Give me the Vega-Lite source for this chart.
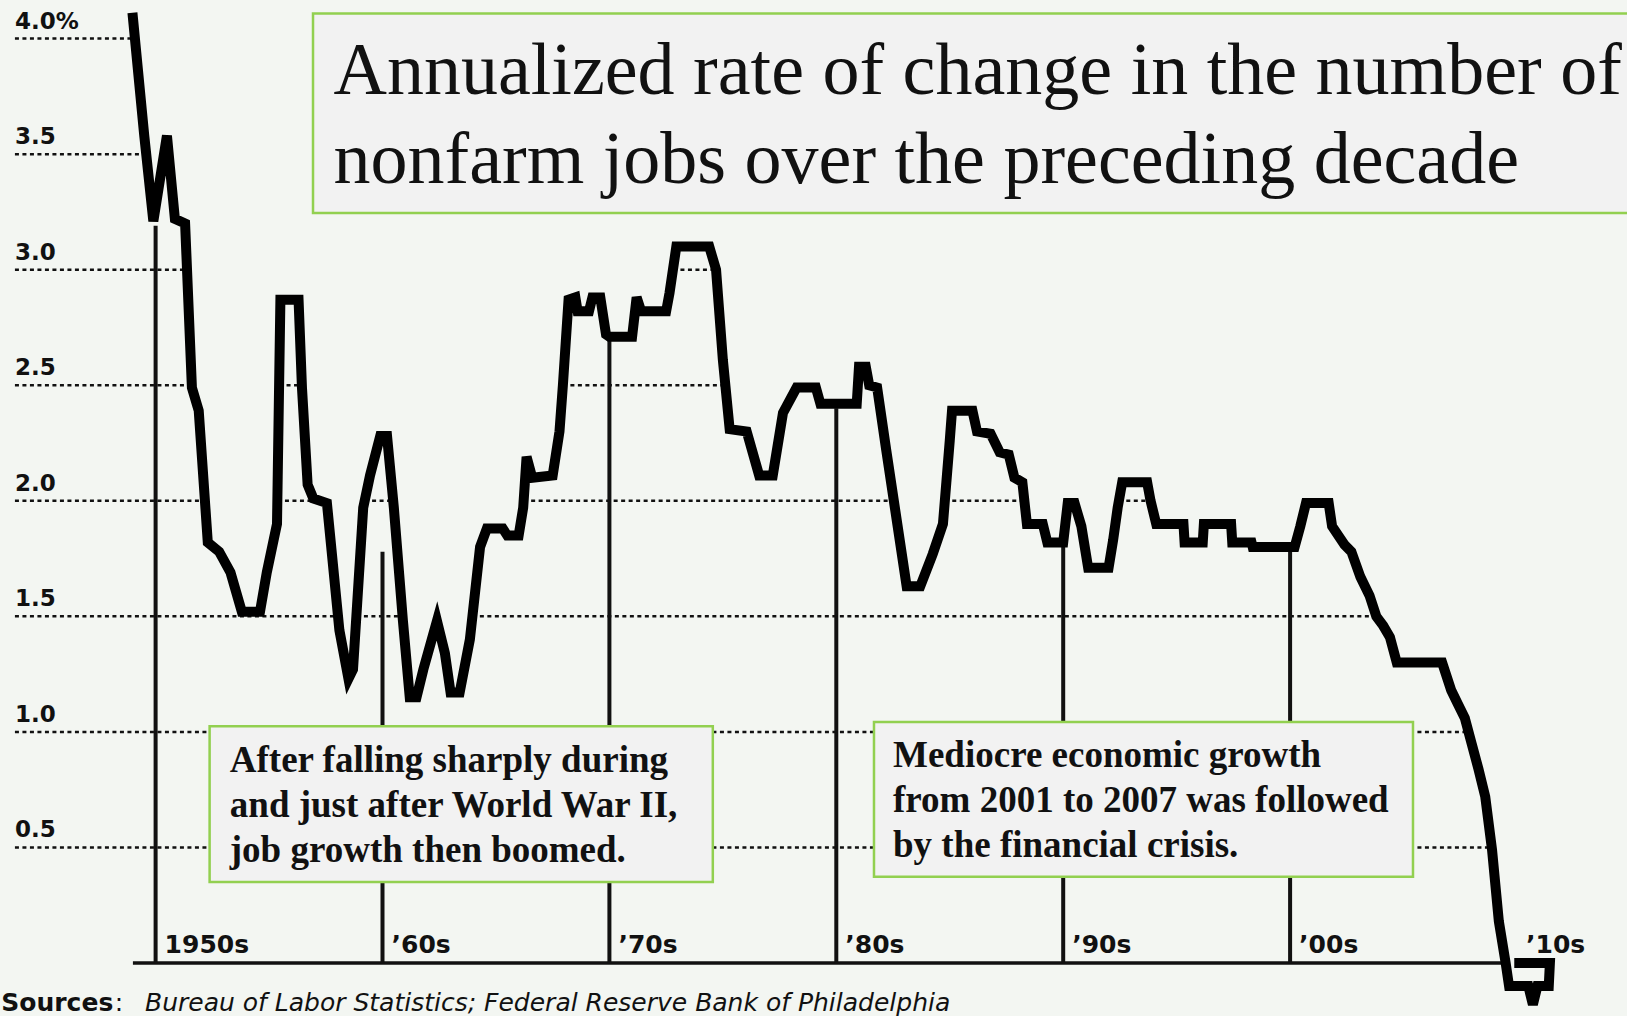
{
  "$schema": "https://vega.github.io/schema/vega-lite/v6.json",
  "width": 1627,
  "height": 1016,
  "autosize": "none",
  "padding": 0,
  "background": "#f3f6f2",
  "config": {"view": {"stroke": null}},
  "datasets": {
    "series": [
      {"i":0,"year":1949.0,"v":4.09},{"i":1,"year":1949.5,"v":3.58},{"i":2,"year":1949.9,"v":3.21},{"i":3,"year":1950.5,"v":3.58},
      {"i":4,"year":1950.85,"v":3.22},{"i":5,"year":1951.3,"v":3.20},{"i":6,"year":1951.6,"v":2.49},{"i":7,"year":1951.9,"v":2.39},
      {"i":8,"year":1952.3,"v":1.82},{"i":9,"year":1952.8,"v":1.78},{"i":10,"year":1953.3,"v":1.69},{"i":11,"year":1953.8,"v":1.52},
      {"i":12,"year":1954.6,"v":1.52},{"i":13,"year":1954.9,"v":1.69},{"i":14,"year":1955.35,"v":1.90},{"i":15,"year":1955.5,"v":2.87},
      {"i":16,"year":1956.3,"v":2.87},{"i":17,"year":1956.45,"v":2.49},{"i":18,"year":1956.7,"v":2.07},{"i":19,"year":1956.95,"v":2.01},
      {"i":20,"year":1957.55,"v":1.99},{"i":21,"year":1958.1,"v":1.44},{"i":22,"year":1958.5,"v":1.23},{"i":23,"year":1958.7,"v":1.27},
      {"i":24,"year":1959.15,"v":1.97},{"i":25,"year":1959.45,"v":2.11},{"i":26,"year":1959.9,"v":2.28},{"i":27,"year":1960.2,"v":2.28},
      {"i":28,"year":1960.5,"v":1.97},{"i":29,"year":1960.9,"v":1.48},{"i":30,"year":1961.2,"v":1.15},{"i":31,"year":1961.5,"v":1.15},
      {"i":32,"year":1961.8,"v":1.27},{"i":33,"year":1962.4,"v":1.48},{"i":34,"year":1962.75,"v":1.34},{"i":35,"year":1963.0,"v":1.17},
      {"i":36,"year":1963.4,"v":1.17},{"i":37,"year":1963.85,"v":1.40},{"i":38,"year":1964.3,"v":1.80},{"i":39,"year":1964.6,"v":1.88},
      {"i":40,"year":1965.3,"v":1.88},{"i":41,"year":1965.5,"v":1.85},{"i":42,"year":1966.0,"v":1.85},{"i":43,"year":1966.2,"v":1.97},
      {"i":44,"year":1966.35,"v":2.19},{"i":45,"year":1966.6,"v":2.10},{"i":46,"year":1967.5,"v":2.11},{"i":47,"year":1967.8,"v":2.30},
      {"i":48,"year":1967.95,"v":2.50},{"i":49,"year":1968.2,"v":2.87},{"i":50,"year":1968.5,"v":2.88},{"i":51,"year":1968.6,"v":2.82},
      {"i":52,"year":1969.1,"v":2.82},{"i":53,"year":1969.25,"v":2.88},{"i":54,"year":1969.6,"v":2.88},{"i":55,"year":1969.85,"v":2.72},
      {"i":56,"year":1970.0,"v":2.71},{"i":57,"year":1971.0,"v":2.71},{"i":58,"year":1971.2,"v":2.88},{"i":59,"year":1971.4,"v":2.82},
      {"i":60,"year":1972.5,"v":2.82},{"i":61,"year":1972.65,"v":2.90},{"i":62,"year":1972.95,"v":3.10},{"i":63,"year":1974.4,"v":3.10},
      {"i":64,"year":1974.7,"v":3.00},{"i":65,"year":1975.0,"v":2.61},{"i":66,"year":1975.3,"v":2.31},{"i":67,"year":1976.05,"v":2.30},
      {"i":68,"year":1976.6,"v":2.11},{"i":69,"year":1977.2,"v":2.11},{"i":70,"year":1977.65,"v":2.38},{"i":71,"year":1978.25,"v":2.49},
      {"i":72,"year":1979.1,"v":2.49},{"i":73,"year":1979.3,"v":2.42},{"i":74,"year":1980.9,"v":2.42},{"i":75,"year":1981.0,"v":2.58},
      {"i":76,"year":1981.3,"v":2.58},{"i":77,"year":1981.45,"v":2.50},{"i":78,"year":1981.8,"v":2.49},{"i":79,"year":1982.2,"v":2.22},
      {"i":80,"year":1983.1,"v":1.63},{"i":81,"year":1983.7,"v":1.63},{"i":82,"year":1984.25,"v":1.77},{"i":83,"year":1984.7,"v":1.90},
      {"i":84,"year":1985.0,"v":2.26},{"i":85,"year":1985.1,"v":2.39},{"i":86,"year":1986.0,"v":2.39},{"i":87,"year":1986.2,"v":2.30},
      {"i":88,"year":1986.8,"v":2.29},{"i":89,"year":1987.2,"v":2.21},{"i":90,"year":1987.6,"v":2.20},{"i":91,"year":1987.85,"v":2.10},
      {"i":92,"year":1988.2,"v":2.08},{"i":93,"year":1988.4,"v":1.90},{"i":94,"year":1989.1,"v":1.90},{"i":95,"year":1989.3,"v":1.82},
      {"i":96,"year":1990.0,"v":1.82},{"i":97,"year":1990.2,"v":1.99},{"i":98,"year":1990.5,"v":1.99},{"i":99,"year":1990.8,"v":1.89},
      {"i":100,"year":1991.1,"v":1.71},{"i":101,"year":1992.0,"v":1.71},{"i":102,"year":1992.2,"v":1.83},{"i":103,"year":1992.4,"v":1.97},
      {"i":104,"year":1992.6,"v":2.08},{"i":105,"year":1993.7,"v":2.08},{"i":106,"year":1993.85,"v":2.00},{"i":107,"year":1994.1,"v":1.90},
      {"i":108,"year":1995.3,"v":1.90},{"i":109,"year":1995.35,"v":1.82},{"i":110,"year":1996.15,"v":1.82},{"i":111,"year":1996.2,"v":1.90},
      {"i":112,"year":1997.4,"v":1.90},{"i":113,"year":1997.45,"v":1.82},{"i":114,"year":1998.3,"v":1.82},{"i":115,"year":1998.35,"v":1.80},
      {"i":116,"year":2000.2,"v":1.80},{"i":117,"year":2000.45,"v":1.89},{"i":118,"year":2000.7,"v":1.99},{"i":119,"year":2001.7,"v":1.99},
      {"i":120,"year":2001.85,"v":1.89},{"i":121,"year":2002.4,"v":1.81},{"i":122,"year":2002.7,"v":1.78},{"i":123,"year":2003.1,"v":1.67},
      {"i":124,"year":2003.5,"v":1.59},{"i":125,"year":2003.8,"v":1.50},{"i":126,"year":2004.1,"v":1.46},{"i":127,"year":2004.4,"v":1.41},
      {"i":128,"year":2004.7,"v":1.30},{"i":129,"year":2006.7,"v":1.30},{"i":130,"year":2007.1,"v":1.18},{"i":131,"year":2007.4,"v":1.12},
      {"i":132,"year":2007.7,"v":1.06},{"i":133,"year":2008.0,"v":0.95},{"i":134,"year":2008.3,"v":0.84},{"i":135,"year":2008.6,"v":0.72},
      {"i":136,"year":2008.9,"v":0.49},{"i":137,"year":2009.2,"v":0.18},{"i":138,"year":2009.5,"v":0.0},{"i":139,"year":2009.65,"v":-0.10},
      {"i":140,"year":2010.5,"v":-0.10},{"i":141,"year":2010.7,"v":-0.18},{"i":142,"year":2010.9,"v":-0.10},{"i":143,"year":2011.4,"v":-0.10},
      {"i":144,"year":2011.45,"v":0.0},{"i":145,"year":2010.1,"v":0.0}
    ],
    "gridsegs": [
      {"v":4.0,"x0":1943.8,"x1":1949.09},
      {"v":3.5,"x0":1943.8,"x1":1949.59},
      {"v":3.0,"x0":1943.8,"x1":1951.38},{"v":3.0,"x0":1972.8,"x1":1974.7},
      {"v":2.5,"x0":1943.8,"x1":1951.59},{"v":2.5,"x0":1955.44,"x1":1956.45},{"v":2.5,"x0":1967.95,"x1":1975.11},{"v":2.5,"x0":1980.95,"x1":1981.45},
      {"v":2.0,"x0":1943.8,"x1":1952.17},{"v":2.0,"x0":1955.37,"x1":1957.25},{"v":2.0,"x0":1959.21,"x1":1960.47},{"v":2.0,"x0":1966.22,"x1":1982.54},
      {"v":2.0,"x0":1984.78,"x1":1988.29},{"v":2.0,"x0":1992.45,"x1":1993.85},
      {"v":1.5,"x0":1943.8,"x1":1958.04},{"v":1.5,"x0":1958.85,"x1":1960.88},{"v":1.5,"x0":1963.96,"x1":2003.8},
      {"v":1.0,"x0":1943.8,"x1":2007.86},
      {"v":0.5,"x0":1943.8,"x1":2008.89}
    ],
    "grid": [
      {"v":4.0,"label":"4.0%"},{"v":3.5,"label":"3.5"},{"v":3.0,"label":"3.0"},{"v":2.5,"label":"2.5"},
      {"v":2.0,"label":"2.0"},{"v":1.5,"label":"1.5"},{"v":1.0,"label":"1.0"},{"v":0.5,"label":"0.5"}
    ],
    "decades": [
      {"year":1950,"top":3.19,"label":"1950s"},{"year":1960,"top":1.78,"label":"’60s"},{"year":1970,"top":2.70,"label":"’70s"},
      {"year":1980,"top":2.40,"label":"’80s"},{"year":1990,"top":1.80,"label":"’90s"},{"year":2000,"top":1.79,"label":"’00s"},
      {"year":2010,"top":null,"label":"’10s"}
    ],
    "one": [{"k": 1}]
  },
  "layer": [
    {
      "data": {"name": "gridsegs"},
      "mark": {"type": "rule", "stroke": "#111", "strokeWidth": 2.5, "strokeDash": [4, 3.5]},
      "encoding": {
        "x": {"field": "x0", "type": "quantitative", "scale": {"domain": [1943.142, 2014.848], "nice": false, "zero": false}, "axis": null},
        "x2": {"field": "x1"},
        "y": {"field": "v", "type": "quantitative", "scale": {"domain": [-0.2293, 4.167], "nice": false, "zero": false}, "axis": null}
      }
    },
    {
      "data": {"name": "grid"},
      "mark": {"type": "text", "font": "DejaVu Sans", "fontWeight": "bold", "fontSize": 23, "align": "left", "baseline": "alphabetic", "dy": -10, "fill": "#111"},
      "encoding": {
        "x": {"datum": 1943.8, "type": "quantitative", "scale": {"domain": [1943.142, 2014.848], "nice": false, "zero": false}, "axis": null},
        "y": {"field": "v", "type": "quantitative", "scale": {"domain": [-0.2293, 4.167], "nice": false, "zero": false}, "axis": null},
        "text": {"field": "label", "type": "nominal"}
      }
    },
    {
      "data": {"name": "one"},
      "mark": {"type": "rule", "stroke": "#111", "strokeWidth": 3.5},
      "encoding": {
        "x": {"datum": 1949.0, "type": "quantitative", "scale": {"domain": [1943.142, 2014.848], "nice": false, "zero": false}, "axis": null},
        "x2": {"datum": 2009.5},
        "y": {"datum": 0, "type": "quantitative", "scale": {"domain": [-0.2293, 4.167], "nice": false, "zero": false}, "axis": null}
      }
    },
    {
      "data": {"name": "decades"},
      "transform": [{"filter": "datum.top != null"}],
      "mark": {"type": "rule", "stroke": "#111", "strokeWidth": 4},
      "encoding": {
        "x": {"field": "year", "type": "quantitative", "scale": {"domain": [1943.142, 2014.848], "nice": false, "zero": false}, "axis": null},
        "y": {"field": "top", "type": "quantitative", "scale": {"domain": [-0.2293, 4.167], "nice": false, "zero": false}, "axis": null},
        "y2": {"datum": 0}
      }
    },
    {
      "data": {"name": "decades"},
      "mark": {"type": "text", "font": "DejaVu Sans", "fontWeight": "bold", "fontSize": 25, "align": "left", "baseline": "alphabetic", "dx": 9, "dy": -10, "fill": "#111"},
      "encoding": {
        "x": {"field": "year", "type": "quantitative", "scale": {"domain": [1943.142, 2014.848], "nice": false, "zero": false}, "axis": null},
        "y": {"datum": 0, "type": "quantitative", "scale": {"domain": [-0.2293, 4.167], "nice": false, "zero": false}, "axis": null},
        "text": {"field": "label", "type": "nominal"}
      }
    },
    {
      "data": {"name": "series"},
      "mark": {"type": "line", "stroke": "#000", "strokeWidth": 10, "strokeJoin": "miter", "strokeCap": "square"},
      "encoding": {
        "x": {"field": "year", "type": "quantitative", "scale": {"domain": [1943.142, 2014.848], "nice": false, "zero": false}, "axis": null},
        "y": {"field": "v", "type": "quantitative", "scale": {"domain": [-0.2293, 4.167], "nice": false, "zero": false}, "axis": null},
        "order": {"field": "i", "type": "quantitative"}
      }
    },
    {
      "data": {"name": "one"},
      "mark": {"type": "rect", "fill": "#f2f2f2", "stroke": "#92d050", "strokeWidth": 2.5},
      "encoding": {
        "x": {"datum": 1956.937, "type": "quantitative", "scale": {"domain": [1943.142, 2014.848], "nice": false, "zero": false}, "axis": null},
        "x2": {"datum": 2016.5},
        "y": {"datum": 4.1086, "type": "quantitative", "scale": {"domain": [-0.2293, 4.167], "nice": false, "zero": false}, "axis": null},
        "y2": {"datum": 3.2453}
      }
    },
    {
      "data": {"name": "one"},
      "mark": {"type": "text", "font": "Liberation Serif", "fontSize": 74, "align": "left", "baseline": "alphabetic", "lineHeight": 89, "fill": "#111"},
      "encoding": {
        "x": {"datum": 1957.84, "type": "quantitative", "scale": {"domain": [1943.142, 2014.848], "nice": false, "zero": false}, "axis": null},
        "y": {"datum": 3.7603, "type": "quantitative", "scale": {"domain": [-0.2293, 4.167], "nice": false, "zero": false}, "axis": null},
        "text": {"value": ["Annualized rate of change in the number of", "nonfarm jobs over the preceding decade"]}
      }
    },
    {
      "data": {"name": "one"},
      "mark": {"type": "rect", "fill": "#f2f2f2", "stroke": "#92d050", "strokeWidth": 2.5},
      "encoding": {
        "x": {"datum": 1952.38, "type": "quantitative", "scale": {"domain": [1943.142, 2014.848], "nice": false, "zero": false}, "axis": null},
        "x2": {"datum": 1974.557},
        "y": {"datum": 1.0242, "type": "quantitative", "scale": {"domain": [-0.2293, 4.167], "nice": false, "zero": false}, "axis": null},
        "y2": {"datum": 0.3505}
      }
    },
    {
      "data": {"name": "one"},
      "mark": {"type": "text", "font": "Liberation Serif", "fontWeight": "bold", "fontSize": 37, "align": "left", "baseline": "alphabetic", "lineHeight": 45, "fill": "#111"},
      "encoding": {
        "x": {"datum": 1953.27, "type": "quantitative", "scale": {"domain": [1943.142, 2014.848], "nice": false, "zero": false}, "axis": null},
        "y": {"datum": 0.8278, "type": "quantitative", "scale": {"domain": [-0.2293, 4.167], "nice": false, "zero": false}, "axis": null},
        "text": {"value": ["After falling sharply during", "and just after World War II,", "job growth then boomed."]}
      }
    },
    {
      "data": {"name": "one"},
      "mark": {"type": "rect", "fill": "#f2f2f2", "stroke": "#92d050", "strokeWidth": 2.5},
      "encoding": {
        "x": {"datum": 1981.661, "type": "quantitative", "scale": {"domain": [1943.142, 2014.848], "nice": false, "zero": false}, "axis": null},
        "x2": {"datum": 2005.416},
        "y": {"datum": 1.0428, "type": "quantitative", "scale": {"domain": [-0.2293, 4.167], "nice": false, "zero": false}, "axis": null},
        "y2": {"datum": 0.3734}
      }
    },
    {
      "data": {"name": "one"},
      "mark": {"type": "text", "font": "Liberation Serif", "fontWeight": "bold", "fontSize": 37, "align": "left", "baseline": "alphabetic", "lineHeight": 45, "fill": "#111"},
      "encoding": {
        "x": {"datum": 1982.499, "type": "quantitative", "scale": {"domain": [1943.142, 2014.848], "nice": false, "zero": false}, "axis": null},
        "y": {"datum": 0.8494, "type": "quantitative", "scale": {"domain": [-0.2293, 4.167], "nice": false, "zero": false}, "axis": null},
        "text": {"value": ["Mediocre economic growth", "from 2001 to 2007 was followed", "by the financial crisis."]}
      }
    },
    {
      "data": {"name": "one"},
      "mark": {"type": "text", "font": "DejaVu Sans", "fontWeight": "bold", "fontSize": 25, "align": "left", "baseline": "alphabetic", "fill": "#111"},
      "encoding": {
        "x": {"datum": 1943.2, "type": "quantitative", "scale": {"domain": [1943.142, 2014.848], "nice": false, "zero": false}, "axis": null},
        "y": {"datum": -0.2077, "type": "quantitative", "scale": {"domain": [-0.2293, 4.167], "nice": false, "zero": false}, "axis": null},
        "text": {"value": "Sources"}
      }
    },
    {
      "data": {"name": "one"},
      "mark": {"type": "text", "font": "DejaVu Sans", "fontSize": 25, "align": "left", "baseline": "alphabetic", "fill": "#111"},
      "encoding": {
        "x": {"datum": 1948.2, "type": "quantitative", "scale": {"domain": [1943.142, 2014.848], "nice": false, "zero": false}, "axis": null},
        "y": {"datum": -0.2077, "type": "quantitative", "scale": {"domain": [-0.2293, 4.167], "nice": false, "zero": false}, "axis": null},
        "text": {"value": ":"}
      }
    },
    {
      "data": {"name": "one"},
      "mark": {"type": "text", "font": "DejaVu Sans", "fontStyle": "italic", "fontSize": 25, "align": "left", "baseline": "alphabetic", "fill": "#111"},
      "encoding": {
        "x": {"datum": 1949.532, "type": "quantitative", "scale": {"domain": [1943.142, 2014.848], "nice": false, "zero": false}, "axis": null},
        "y": {"datum": -0.2077, "type": "quantitative", "scale": {"domain": [-0.2293, 4.167], "nice": false, "zero": false}, "axis": null},
        "text": {"value": "Bureau of Labor Statistics; Federal Reserve Bank of Philadelphia"}
      }
    }
  ]
}
